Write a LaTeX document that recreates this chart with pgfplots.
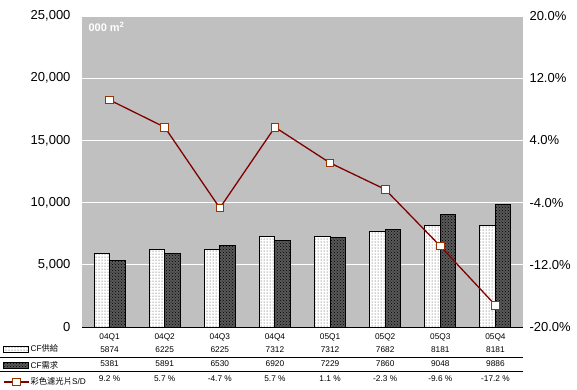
\documentclass[border=0pt]{standalone}
\usepackage{fontspec}
\setmainfont{Liberation Sans}
\newfontfamily\cjk{Noto Sans CJK TC}
\usepackage{pgfplots}
\pgfplotsset{compat=1.18}
\usetikzlibrary{patterns}
\definecolor{plotgray}{HTML}{C0C0C0}
\definecolor{linered}{HTML}{800000}
\definecolor{markred}{HTML}{993300}
\tikzset{
  supplybar/.style={draw=black, line width=1pt, fill=white, postaction={pattern=dots, pattern color=black!80}},
  demandbar/.style={draw=black, line width=1pt, fill=black!65, postaction={pattern=crosshatch dots, pattern color=black}},
}
\pgfplotsset{
  boxlegend/.style={legend image code/.code={\draw[##1] (0pt,-3pt) rectangle (25pt,3pt);}},
  linelegend/.style={legend image code/.code={\draw[##1, mark repeat=2, mark phase=2] plot coordinates {(0pt,0pt) (12.5pt,0pt) (25pt,0pt)};}},
}
\begin{document}
\begin{tikzpicture}[x=1pt,y=1pt]
\useasboundingbox (0,0) rectangle (577,389);
\begin{axis}[
  at={(82pt,62pt)}, anchor=south west,
  scale only axis, width=441pt, height=311pt,
  axis background/.style={fill=plotgray},
  xmin=-0.5, xmax=7.5, ymin=0, ymax=25000,
  xtick={0,...,7}, xticklabels={04Q1,04Q2,04Q3,04Q4,05Q1,05Q2,05Q3,05Q4},
  ytick={0,5000,...,25000}, scaled y ticks=false,
  ymajorgrids, major grid style={white, line width=1pt},
  axis lines*=left, y axis line style={draw=none}, x axis line style={black, line width=1pt, -},
  major tick length=0pt,
  ybar=0pt, bar width=15.5pt,
  /pgf/number format/assume math mode=true,
  /pgf/number format/fixed,
  /pgf/number format/1000 sep={,},
  yticklabel style={font=\fontsize{13}{15}\selectfont, xshift=-8pt},
  xticklabel style={font=\fontsize{8.3}{10}\selectfont, yshift=-3pt},
]
\addplot[supplybar] coordinates {(0,5874) (1,6225) (2,6225) (3,7312) (4,7312) (5,7682) (6,8181) (7,8181)};
\addplot[demandbar] coordinates {(0,5381) (1,5891) (2,6530) (3,6920) (4,7229) (5,7860) (6,9048) (7,9886)};
\end{axis}
\begin{axis}[
  at={(82pt,62pt)}, anchor=south west,
  scale only axis, width=441pt, height=311pt,
  xmin=-0.5, xmax=7.5, ymin=-20, ymax=20,
  axis x line=none, axis y line*=right, y axis line style={draw=none},
  ytick={-20,-12,...,20}, major tick length=0pt,
  /pgf/number format/assume math mode=true,
  /pgf/number format/fixed, /pgf/number format/fixed zerofill, /pgf/number format/precision=1,
  yticklabel={\pgfmathprintnumber{\tick}\%},
  yticklabel style={font=\fontsize{13}{15}\selectfont, xshift=3pt},
  legend style={at={(axis description cs:-0.179,-0.056)}, anchor=north west, draw=none, fill=none,
    font=\fontsize{8.3}{10}\selectfont, row sep=7.5pt, inner sep=0pt,
    nodes={inner sep=1pt, text height=6pt, text depth=1pt}},
  legend cell align=left,
]
\addlegendimage{supplybar, boxlegend}
\addlegendentry{CF{\cjk 供給}}
\addlegendimage{demandbar, boxlegend}
\addlegendentry{CF{\cjk 需求}}
\addplot[linered, line width=1.3pt, mark=square*, mark size=3.8pt,
  mark options={fill=white, draw=markred, line width=0.9pt, solid}, linelegend]
  coordinates {(0,9.2) (1,5.7) (2,-4.7) (3,5.7) (4,1.1) (5,-2.3) (6,-9.6) (7,-17.2)};
\addlegendentry{{\cjk 彩色濾光片}S/D}
\end{axis}
\node[white, font=\bfseries\fontsize{11}{13}\selectfont, anchor=west] at (85,362) {000 m\textsuperscript{2}};
\draw[black, line width=0.8pt] (0,32) -- (523,32);
\draw[black, line width=0.8pt] (0,18) -- (523,18);
\foreach \v [count=\i from 0] in {5874,6225,6225,7312,7312,7682,8181,8181}
  \node[font=\fontsize{8.3}{10}\selectfont] at ({82+55.125*(\i+0.5)},39.5) {\v};
\foreach \v [count=\i from 0] in {5381,5891,6530,6920,7229,7860,9048,9886}
  \node[font=\fontsize{8.3}{10}\selectfont] at ({82+55.125*(\i+0.5)},25) {\v};
\foreach \v [count=\i from 0] in {9.2 \%,5.7 \%,-4.7 \%,5.7 \%,1.1 \%,-2.3 \%,-9.6 \%,-17.2 \%}
  \node[font=\fontsize{8.3}{10}\selectfont] at ({82+55.125*(\i+0.5)},10) {\v};
\end{tikzpicture}
\end{document}
